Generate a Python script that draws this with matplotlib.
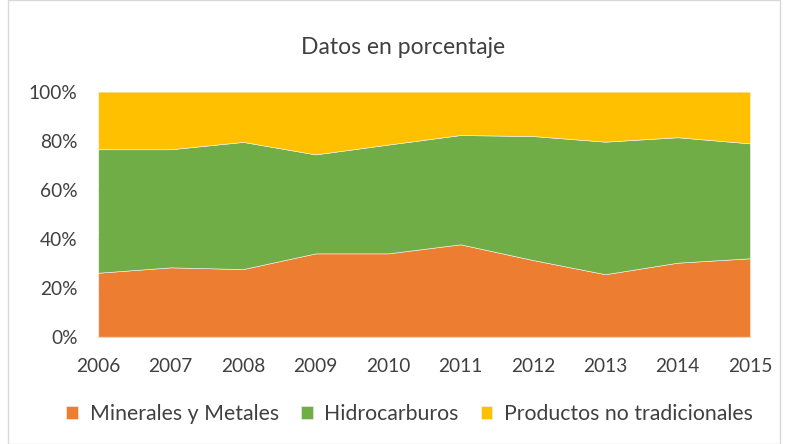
import matplotlib
matplotlib.use("Agg")
import matplotlib.pyplot as plt
from matplotlib.patches import Rectangle
import numpy as np

# years and shares (in %)
years = [2006, 2007, 2008, 2009, 2010, 2011, 2012, 2013, 2014, 2015]
minerales = [26.1, 28.3, 27.6, 34.0, 34.0, 37.7, 31.3, 25.5, 30.2, 32.0]
hidrocarburos = [50.4, 48.2, 51.9, 40.4, 44.4, 44.6, 50.6, 54.1, 51.2, 46.9]
productos = [100 - m - h for m, h in zip(minerales, hidrocarburos)]

series_names = ["Minerales y Metales", "Hidrocarburos", "Productos no tradicionales"]
colors = ["#ED7D31", "#70AD47", "#FFC000"]
yticks = [0, 20, 40, 60, 80, 100]

plt.rcParams["font.family"] = ["Lato", "DejaVu Sans"]

fig = plt.figure(figsize=(7.88, 4.44), dpi=100)
ax = fig.add_axes([0.1247, 0.2417, 0.9518 - 0.1247, 0.7935 - 0.2417])

ax.stackplot(years, minerales, hidrocarburos, productos,
             colors=colors, labels=series_names, linewidth=0.4,
             edgecolor="#F4F4F4", zorder=2)

ax.set_xlim(years[0], years[-1])
ax.set_ylim(0, 100)
ax.set_xticks(years)
ax.set_yticks(yticks)
ax.set_yticklabels([str(v) + "%" for v in yticks])
ax.tick_params(axis="both", length=0, labelsize=13.8, colors="#404040")
ax.tick_params(axis="x", pad=15)
ax.tick_params(axis="y", pad=15)
ax.grid(axis="y", color="#D9D9D9", linewidth=1, zorder=0)
for s in ["top", "right", "left"]:
    ax.spines[s].set_visible(False)
ax.spines["bottom"].set_color("#D9D9D9")

fig.text(0.511, 0.893, "Datos en porcentaje", ha="center", va="center",
         fontsize=16.5, color="#404040")

leg = fig.legend(loc="center", bbox_to_anchor=(0.520, 0.068), ncol=3,
                 frameon=False, fontsize=15.3, handlelength=0.55,
                 handleheight=0.55, handletextpad=0.56, columnspacing=1.03)
for t in leg.get_texts():
    t.set_color("#404040")

# light outer border of the chart area
fig.patches.append(Rectangle((0.01, 0.0), 0.98, 1.0, transform=fig.transFigure,
                             fill=False, edgecolor="#D9D9D9", linewidth=1))

fig.savefig("out.png", dpi=100)
